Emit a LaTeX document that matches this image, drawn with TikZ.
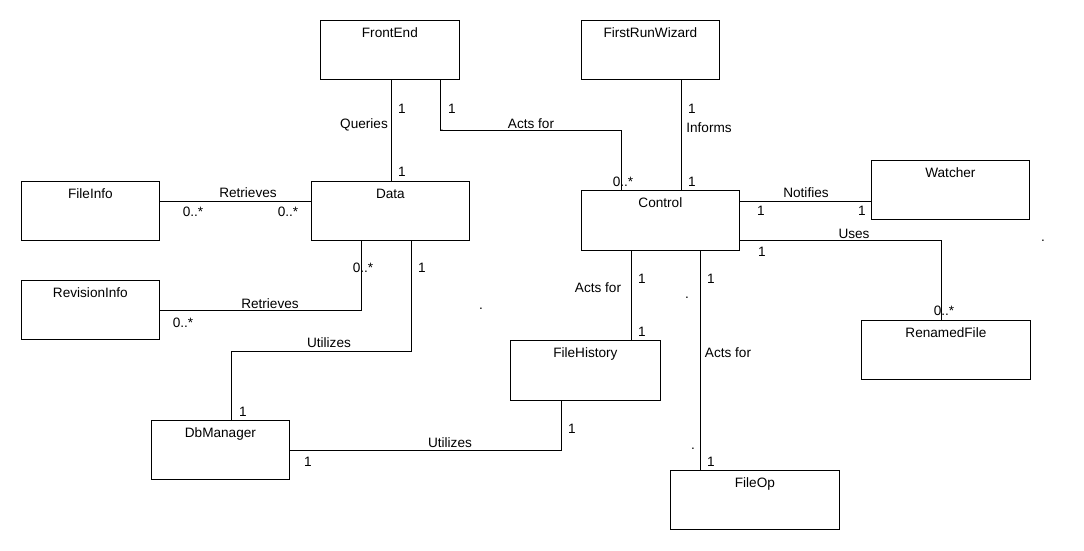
\documentclass[tikz,border=0pt]{standalone}
\usepackage{fontspec}
\setmainfont{Liberation Sans}
\usepackage{tikz}
\usetikzlibrary{positioning,calc}

\tikzset{
  classbox/.style={draw, line width=0.8pt, anchor=north west, inner sep=0pt,
    text height=17.5pt, text depth=41.5pt, font=\fontsize{13.6}{16}\selectfont},
  assoc/.style={line width=0.8pt},
  tag/.style={inner sep=0pt, text height=9pt, text depth=0pt, font=\fontsize{13.6}{16}\selectfont}
}

\begin{document}
\begin{tikzpicture}[x=1pt,y=-1pt]
\fill[white] (0,0) rectangle (1084,550);
\useasboundingbox (0,0) rectangle (1084,550);

% Classes
\node[classbox, minimum width=139pt] (frontend) at (320,20) {FrontEnd};
\node[classbox, minimum width=138pt] (firstrun) at (581,20) {FirstRunWizard};
\node[classbox, minimum width=138pt] (fileinfo) at (21,181) {FileInfo};
\node[classbox, minimum width=158pt] (data) at (311,181) {Data};
\node[classbox, minimum width=158pt, text depth=42.5pt] (control) at (581,190) {Control};
\node[classbox, minimum width=158pt] (watcher) at (871,160) {Watcher};
\node[classbox, minimum width=138pt] (revinfo) at (21,280) {RevisionInfo};
\node[classbox, minimum width=169pt] (renamed) at (861,320) {RenamedFile};
\node[classbox, minimum width=150pt, text depth=42.5pt] (filehistory) at (510,340) {FileHistory};
\node[classbox, minimum width=138pt] (dbmanager) at (151,420) {DbManager};
\node[classbox, minimum width=169pt] (fileop) at (670,470) {FileOp};

% Associations
\draw[assoc] ([xshift=1.5pt]frontend.south) -- ([xshift=1.5pt]frontend.south |- data.north);
\draw[assoc] ([xshift=50.5pt]frontend.south) -- ++(0,51) -| ([xshift=-39pt]control.north);
\draw[assoc] ([xshift=31pt]firstrun.south) -- ([xshift=31pt]firstrun.south |- control.north);
\draw[assoc] ([yshift=-20pt]fileinfo.north east) -- ([yshift=-20pt]data.north west);
\draw[assoc] ([yshift=-30pt]revinfo.north east) -| ([xshift=50pt]data.south west);
\draw[assoc] ([xshift=100pt]data.south west) -- ++(0,111) -| ([xshift=80pt]dbmanager.north west);
\draw[assoc] ([yshift=-30pt]dbmanager.north east) -| ([xshift=51pt]filehistory.south west);
\draw[assoc] ([xshift=50pt]control.south west) -- ([xshift=50pt]control.south west |- filehistory.north);
\draw[assoc] ([xshift=119.5pt]control.south west) -- ([xshift=119.5pt]control.south west |- fileop.north);
\draw[assoc] ([yshift=-11pt]control.north east) -- ([yshift=-11pt]control.north east -| watcher.west);
\draw[assoc] ([yshift=-50pt]control.north east) -| ([xshift=80pt]renamed.north west);

% Names and multiplicities
\node[tag] (q1) at (402,109) {1};
\node[tag] (queries) at (364,124) {Queries};
\node[tag] (q2) at (402,172) {1};
\node[tag] (a1) at (452,109) {1};
\node[tag] (actsfor1) at (531,124) {Acts for};
\node[tag] (a2) at (623,182) {0..*};
\node[tag] (i1) at (692,109) {1};
\node[tag] (informs) at (709,128) {Informs};
\node[tag] (i2) at (692,182) {1};
\node[tag] (notifies) at (806,193) {Notifies};
\node[tag] (n1) at (761,211) {1};
\node[tag] (n2) at (862,211) {1};
\node[tag] (uses) at (854,234) {Uses};
\node[tag] (u1) at (762,252) {1};
\node[tag] (u2) at (944,311) {0..*};
\node[tag] (r1) at (193,212) {0..*};
\node[tag] (retrieves1) at (248,193) {Retrieves};
\node[tag] (r2) at (288,212) {0..*};
\node[tag] (r3) at (183,323) {0..*};
\node[tag] (retrieves2) at (270,304) {Retrieves};
\node[tag] (r4) at (363,268) {0..*};
\node[tag] (d1) at (422,268) {1};
\node[tag] (utilizes1) at (329,343) {Utilizes};
\node[tag] (d2) at (243,412) {1};
\node[tag] (utilizes2) at (450,443) {Utilizes};
\node[tag] (h1) at (308,462) {1};
\node[tag] (h2) at (572,429) {1};
\node[tag] (actsfor2) at (598,288) {Acts for};
\node[tag] (c1) at (642,279) {1};
\node[tag] (c2) at (642,332) {1};
\node[tag] (o1) at (711,279) {1};
\node[tag] (actsfor3) at (728,353) {Acts for};
\node[tag] (o2) at (711,462) {1};

% Stray dots
\node[tag] (dot1) at (442,127) {.};
\node[tag] (dot2) at (1043,237) {.};
\node[tag] (dot3) at (481,305) {.};
\node[tag] (dot4) at (687,294) {.};
\node[tag] (dot5) at (693,445) {.};
\end{tikzpicture}
\end{document}
